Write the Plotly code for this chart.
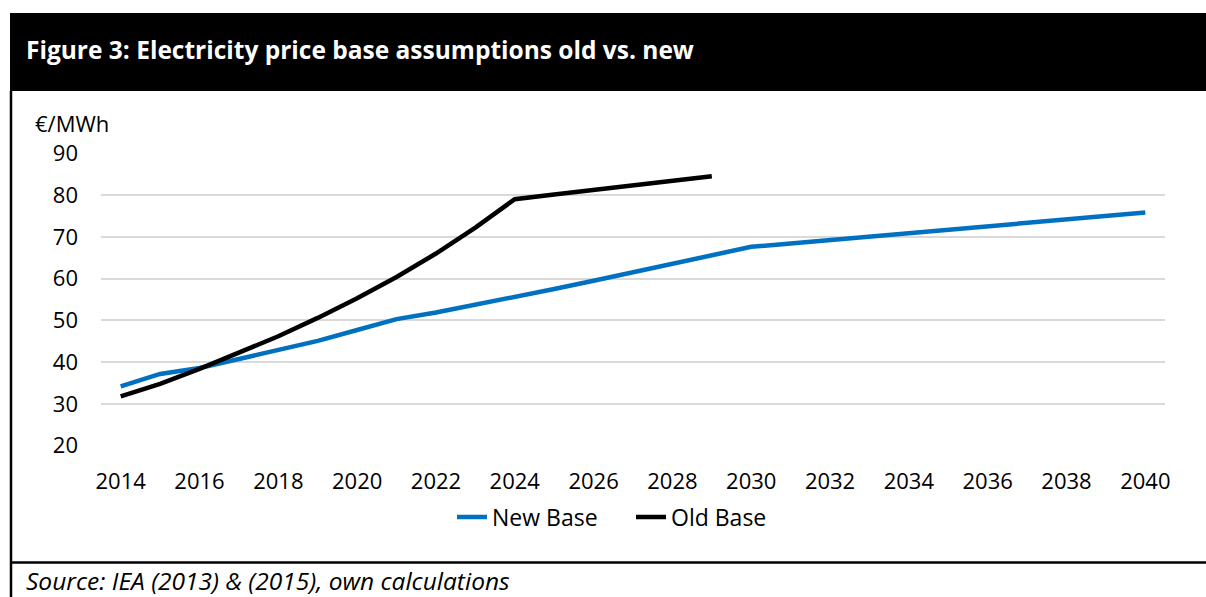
import plotly.graph_objects as go

years = list(range(2014, 2041))
new_base = [34.2, 37.2, 38.6, 40.8, 42.9, 45.1, 47.7, 50.3, 51.9, 53.7, 55.6, 57.5,
            59.5, 61.5, 63.5, 65.6, 67.6, 68.4, 69.2, 70.0, 70.8, 71.7, 72.5, 73.3,
            74.1, 75.0, 75.8]
old_years = list(range(2014, 2030))
old_base = [31.8, 34.8, 38.4, 42.3, 46.2, 50.6, 55.3, 60.4, 66.0, 72.2, 79.0, 80.1,
            81.2, 82.3, 83.4, 84.5]
x_ticks = list(range(2014, 2041, 2))
y_ticks = [20, 30, 40, 50, 60, 70, 80, 90]

W, H = 1206, 597
L, R, T, B = 101, 41, 153, 151
PW, PH = W - L - R, H - T - B


def px(x):
    return (x - L) / PW


def py(y):
    return (H - B - y) / PH


FONT = "Open Sans"

fig = go.Figure()
fig.add_trace(go.Scatter(x=years, y=new_base, mode="lines", name="New Base",
                         line=dict(color="#0070C0", width=4.5)))
fig.add_trace(go.Scatter(x=old_years, y=old_base, mode="lines", name="Old Base",
                         line=dict(color="#000000", width=4.5)))

fig.update_layout(
    width=W, height=H,
    margin=dict(l=L, r=R, t=T, b=B, pad=0),
    paper_bgcolor="white", plot_bgcolor="white",
    font=dict(family=FONT, size=22, color="#000000"),
    showlegend=True,
    legend=dict(orientation="h", x=px(452), y=py(517), xanchor="left", yanchor="middle",
                font=dict(family=FONT, size=23, color="#000000"),
                bgcolor="rgba(0,0,0,0)", itemwidth=30, tracegroupgap=0,
                entrywidth=134, entrywidthmode="pixels"),
    xaxis=dict(range=[2013.5, 2040.5], tickmode="array", tickvals=x_ticks,
               ticktext=[str(v) for v in x_ticks], showgrid=False, zeroline=False,
               showline=False, ticks="", ticklabelstandoff=20,
               tickfont=dict(family=FONT, size=22)),
    yaxis=dict(range=[19.95, 90.05], tickmode="array", tickvals=y_ticks,
               showgrid=True, gridcolor="#D9D9D9", gridwidth=1.5, zeroline=False,
               showline=False, ticks="", ticklabelstandoff=22,
               tickfont=dict(family=FONT, size=22)),
)

shapes = [
    dict(type="rect", xref="paper", yref="paper", x0=px(10), x1=px(1210),
         y0=py(91), y1=py(13), fillcolor="#000000", line=dict(width=0), layer="above"),
    dict(type="line", xref="paper", yref="paper", x0=px(11), x1=px(11),
         y0=py(91), y1=py(600), line=dict(color="#000000", width=2.5)),
    dict(type="line", xref="paper", yref="paper", x0=px(11), x1=px(1210),
         y0=py(562.5), y1=py(562.5), line=dict(color="#000000", width=2.5)),
]
fig.update_layout(shapes=shapes)

fig.add_annotation(text="<b>Figure 3: Electricity price base assumptions old vs. new</b>",
                   xref="paper", yref="paper", x=px(24), y=py(49), xanchor="left",
                   yanchor="middle", showarrow=False,
                   font=dict(family=FONT, size=24.5, color="white"))
fig.add_annotation(text="€/MWh", xref="paper", yref="paper", x=px(33), y=py(123),
                   xanchor="left", yanchor="middle", showarrow=False,
                   font=dict(family=FONT, size=22, color="#000000"))
fig.add_annotation(text="<i>Source: IEA (2013) &amp; (2015), own calculations</i>",
                   xref="paper", yref="paper", x=px(24), y=py(580), xanchor="left",
                   yanchor="middle", showarrow=False,
                   font=dict(family=FONT, size=24.5, color="#000000"))

fig.write_html("out.html")
